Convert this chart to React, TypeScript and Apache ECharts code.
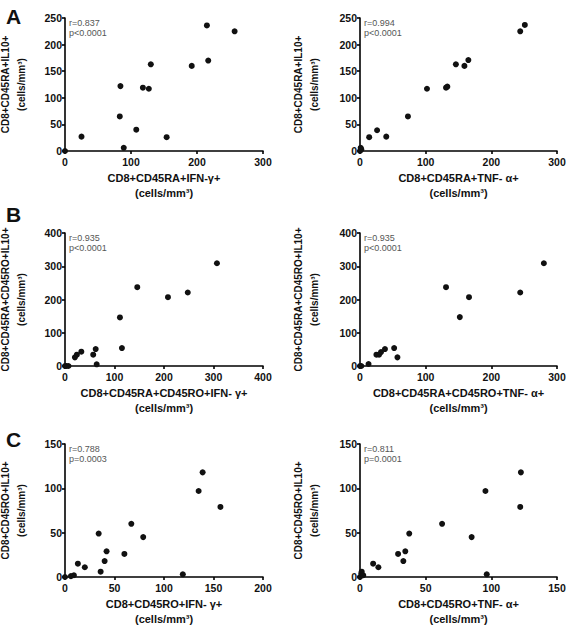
import React, { useEffect, useRef } from "react";
import * as echarts from "echarts";

// ---- data ----
const a1Points: number[][] = [
  [0, 0], [25, 27], [84, 122], [83, 65], [89, 6], [108, 40], [118, 119], [127, 117],
  [154, 26], [130, 163], [192, 160], [215, 236], [217, 170], [257, 225],
];
const a2Points: number[][] = [
  [0, 0], [1, 6], [2, 3], [14, 26], [26, 39], [40, 27], [73, 65], [102, 117],
  [131, 119], [133, 121], [146, 163], [159, 160], [165, 171], [244, 225], [251, 237],
];
const b1Points: number[][] = [
  [0, 0], [3, 0], [7, 0], [20, 26], [24, 34], [33, 43], [57, 34], [62, 51], [64, 5],
  [111, 146], [115, 54], [146, 237], [208, 207], [248, 221], [307, 309],
];
const b2Points: number[][] = [
  [0, 0], [2, 0], [13, 6], [25, 34], [29, 34], [32, 42], [38, 51], [52, 54], [57, 26],
  [131, 237], [152, 147], [166, 207], [244, 221], [280, 309],
];
const c1Points: number[][] = [
  [0, 0], [6, 1], [9, 2], [13, 15], [20, 11], [34, 49], [36, 6], [40, 18], [42, 29],
  [60, 26], [67, 60], [79, 45], [119, 3], [135, 97], [139, 118], [157, 79],
];
const c2Points: number[][] = [
  [0, 0], [1, 4], [1.3, 6], [2.5, 2], [10, 15], [14, 11], [29, 26], [33, 18], [34.5, 29],
  [37.5, 49], [62.5, 60], [85, 45], [95.5, 97], [96.5, 3], [122, 79], [122.5, 118],
];

const xTitles = [
  "CD8+CD45RA+IFN-γ+",
  "CD8+CD45RA+TNF- α+",
  "CD8+CD45RA+CD45RO+IFN- γ+",
  "CD8+CD45RA+CD45RO+TNF- α+",
  "CD8+CD45RO+IFN- γ+",
  "CD8+CD45RO+TNF- α+",
];
const yTitles = [
  "CD8+CD45RA+IL10+",
  "CD8+CD45RA+IL10+",
  "CD8+CD45RA+CD45RO+IL10+",
  "CD8+CD45RA+CD45RO+IL10+",
  "CD8+CD45RO+IL10+",
  "CD8+CD45RO+IL10+",
];
const stats = [
  "r=0.837\np<0.0001",
  "r=0.994\np<0.0001",
  "r=0.935\np<0.0001",
  "r=0.935\np<0.0001",
  "r=0.788\np=0.0003",
  "r=0.811\np=0.0001",
];
const xMax = [300, 300, 400, 300, 200, 150];
const xStep = [100, 100, 100, 100, 50, 50];
const yMax = [250, 250, 400, 400, 150, 150];
const yStep = [50, 50, 100, 100, 50, 50];
const panelLetters = ["A", "B", "C"];
const unitLabel = "(cells/mm³)";

const allPoints = [a1Points, a2Points, b1Points, b2Points, c1Points, c2Points];

const FONT = "'Liberation Sans', Arial, Helvetica, sans-serif";

export default function App() {
  const ref = useRef<HTMLDivElement>(null);
  useEffect(() => {
    document.body.style.margin = "0";
    const chart = echarts.init(ref.current!, null, { renderer: "svg" });
    const lefts = [65, 360];
    const widths = [198, 197];
    const tops = [18, 233, 444];
    const h = 133;
    const yGaps = [36, 38];

    const grids: any[] = [];
    const xAxes: any[] = [];
    const yAxes: any[] = [];
    const series: any[] = [];
    const graphics: any[] = [];

    for (let i = 0; i < 6; i++) {
      const row = Math.floor(i / 2);
      const col = i % 2;
      grids.push({
        left: lefts[col],
        top: tops[row],
        width: widths[col],
        height: h,
        containLabel: false,
        outerBoundsMode: "none",
      });
      const axisLine = { show: true, onZero: false, lineStyle: { color: "#000", width: 1.6 } };
      const axisTick = { show: true, length: 3, lineStyle: { color: "#000", width: 1.6 } };
      xAxes.push({
        type: "value",
        gridIndex: i,
        min: 0,
        max: xMax[i],
        interval: xStep[i],
        axisLine,
        axisTick,
        splitLine: { show: false },
        axisLabel: { color: "#111", fontFamily: FONT, fontWeight: "bold", fontSize: 10.5, margin: 5 },
        name: xTitles[i] + "\n" + unitLabel,
        nameLocation: "middle",
        nameGap: 19,
        nameTextStyle: { color: "#111", fontFamily: FONT, fontWeight: "bold", fontSize: 11, lineHeight: 15 },
      });
      yAxes.push({
        type: "value",
        gridIndex: i,
        min: 0,
        max: yMax[i],
        interval: yStep[i],
        axisLine,
        axisTick,
        splitLine: { show: false },
        axisLabel: { color: "#111", fontFamily: FONT, fontWeight: "bold", fontSize: 10.5, margin: 3 },
        name: yTitles[i] + "\n" + unitLabel,
        nameLocation: "middle",
        nameGap: yGaps[col],
        nameTextStyle: { color: "#111", fontFamily: FONT, fontWeight: "bold", fontSize: 10, lineHeight: 16 },
      });
      series.push({
        type: "scatter",
        xAxisIndex: i,
        yAxisIndex: i,
        data: allPoints[i],
        symbol: "circle",
        symbolSize: 6,
        clip: false,
        itemStyle: { color: "#111", opacity: 1 },
      });
      graphics.push({
        type: "text",
        left: lefts[col] + 4,
        top: tops[row],
        style: { text: stats[i], fill: "#555", font: `9px ${FONT}`, lineHeight: 10 },
      });
    }
    const letterTops = [6, 204, 429];
    panelLetters.forEach((L, r) => {
      graphics.push({
        type: "text",
        left: 6,
        top: letterTops[r],
        style: { text: L, fill: "#111", font: `bold 21px ${FONT}` },
      });
    });

    chart.setOption({
      animation: false,
      backgroundColor: "#fff",
      grid: grids,
      xAxis: xAxes,
      yAxis: yAxes,
      series,
      graphic: graphics,
    });
    return () => chart.dispose();
  }, []);
  return <div ref={ref} style={{ width: 567, height: 629 }} />;
}
